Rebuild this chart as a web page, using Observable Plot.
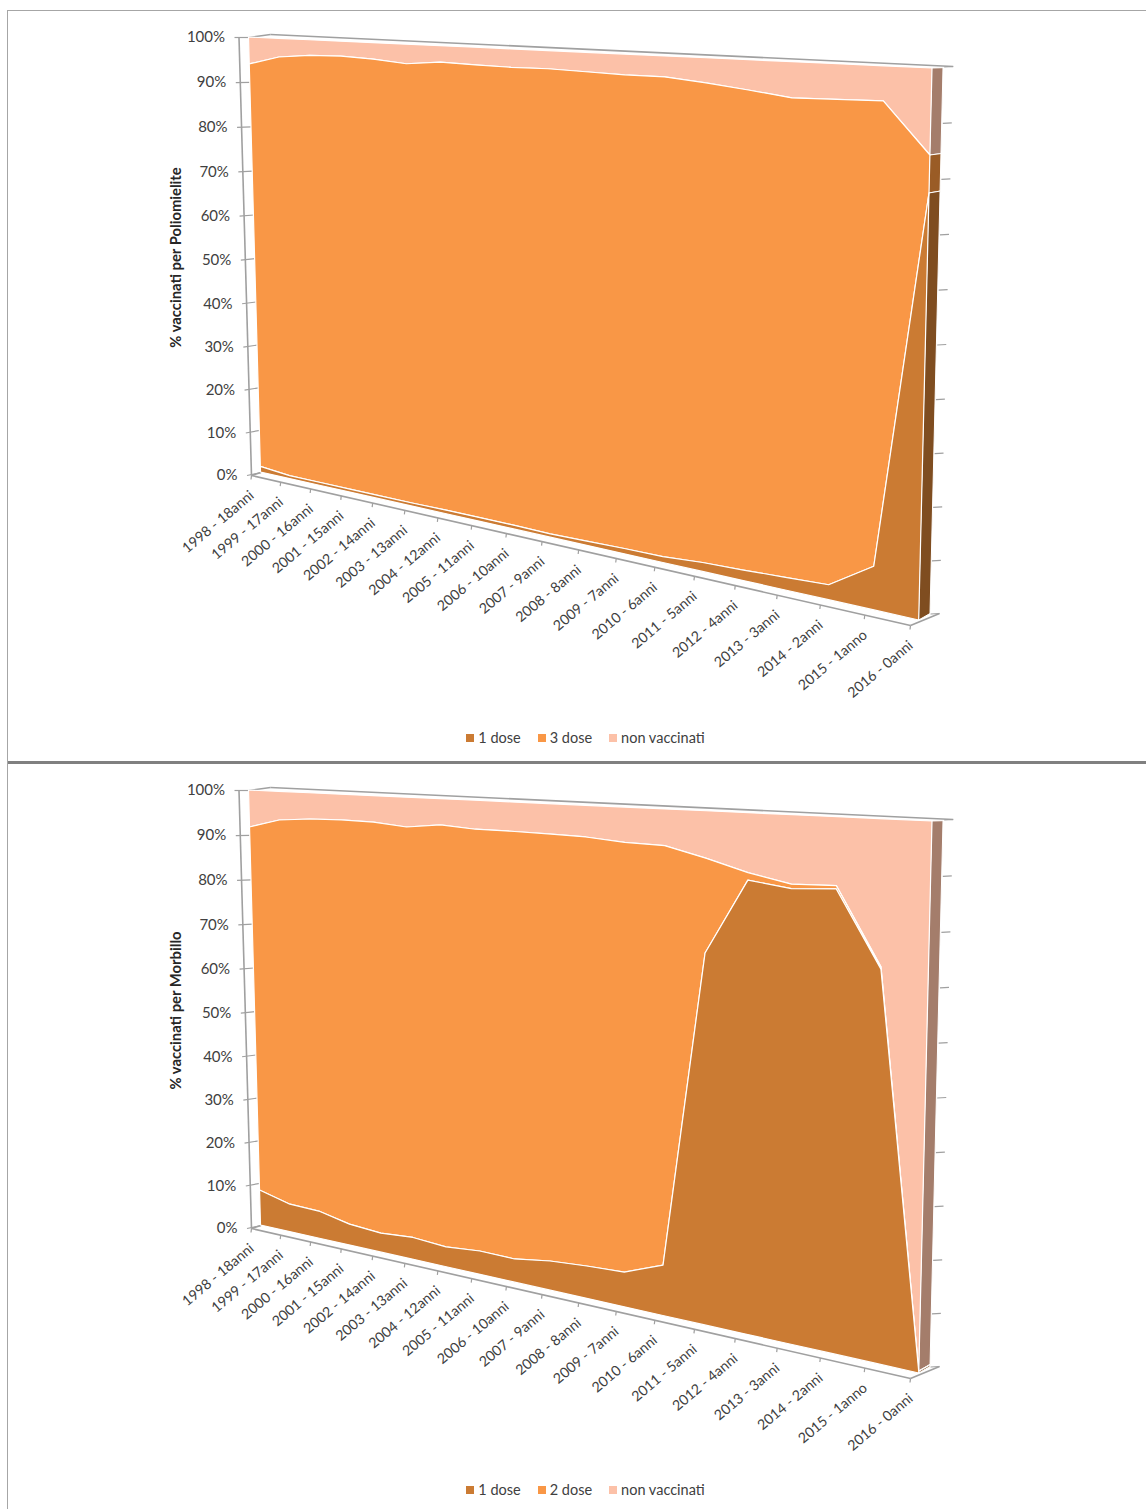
<!DOCTYPE html>
<html><head><meta charset="utf-8">
<script src="https://cdn.jsdelivr.net/npm/d3@7"></script>
<script src="https://cdn.jsdelivr.net/npm/@observablehq/plot@0.6"></script>
<style>
html,body{margin:0;padding:0;background:#fff;overflow:hidden}
body{position:relative;width:1146px;height:1509px;font-family:Lato,sans-serif}
svg{display:block}
.frame{position:absolute;background:#a6a6a6}
.block{position:relative;height:764px}
.legend{height:28px;line-height:28px;display:flex;justify-content:center;gap:17px;color:#404040;font-size:14.5px;padding-left:25px;box-sizing:border-box;width:1146px}
.legend span{display:flex;align-items:center;gap:4px}
.legend i{display:inline-block;width:8px;height:8px}
</style></head><body>
<div class="frame" style="left:8px;top:10px;width:1138px;height:1px"></div>
<div class="frame" style="left:7px;top:10px;width:1px;height:1499px"></div>
<div class="frame" style="left:8px;top:761px;width:1138px;height:3px;background:#808080"></div>
<div class="block" id="polio"></div>
<div class="block" id="morbillo" style="height:745px"></div>
<script>
const categories = ["1998 - 18anni","1999 - 17anni","2000 - 16anni","2001 - 15anni","2002 - 14anni","2003 - 13anni","2004 - 12anni","2005 - 11anni","2006 - 10anni","2007 - 9anni","2008 - 8anni","2009 - 7anni","2010 - 6anni","2011 - 5anni","2012 - 4anni","2013 - 3anni","2014 - 2anni","2015 - 1anno","2016 - 0anni"];
const percentTicks = [0,10,20,30,40,50,60,70,80,90,100];

const polioDose1 = [1.35,0.7,0.7,0.7,0.7,0.7,0.8,0.8,0.8,0.7,0.9,1.1,1.2,1.8,2.1,2.5,2.9,8.3,78.1];
const polioDose3 = [92.65,95.2,95.9,96.1,95.8,95.2,95.8,95.6,95.5,95.7,95.3,94.9,94.8,93.5,92.3,90.9,90.7,85.5,6.7];
const polioNone  = [6,4.1,3.4,3.2,3.5,4.1,3.4,3.6,3.7,3.6,3.8,4,4,4.7,5.6,6.6,6.4,6.2,15.2];

const morbilloDose1 = [8.3,6.5,6.3,4.8,4.3,4.9,4.4,5.1,5,6.2,6.8,7.2,10.3,73.1,87.5,86.5,87,73.2,0.3];
const morbilloDose2 = [83.45,87.2,88,89.7,90.1,88.85,90.2,89,89.1,87.8,87,86,82.7,18,1.4,0.8,0.6,0.4,0.1];
const morbilloNone  = [8.25,6.3,5.7,5.5,5.6,6.25,5.4,5.9,5.9,6,6.2,6.8,7,8.9,11.1,12.7,12.4,26.4,99.6];

const colors = {dose1:"#cb7b33", dose2:"#f99746", none:"#fcc1a8"};
const sideColors = {dose1:"#7f4d20", dose2:"#9a5c26", none:"#a47d6b"};

// perspective of a plane given by its corners: bottom-left, bottom-right, top-right, top-left
function perspective([p0,p1,p2,p3]) {
  const dx1=p1[0]-p2[0], dx2=p3[0]-p2[0], sx=p0[0]-p1[0]+p2[0]-p3[0];
  const dy1=p1[1]-p2[1], dy2=p3[1]-p2[1], sy=p0[1]-p1[1]+p2[1]-p3[1];
  const det=dx1*dy2-dx2*dy1;
  const g=(sx*dy2-dx2*sy)/det, h=(dx1*sy-sx*dy1)/det;
  const a=p1[0]-p0[0]+g*p1[0], b=p3[0]-p0[0]+h*p3[0], d=p1[1]-p0[1]+g*p1[1], e=p3[1]-p0[1]+h*p3[1];
  return (u,v)=>{const w=g*u+h*v+1; return [(a*u+b*v+p0[0])/w,(d*u+e*v+p0[1])/w];};
}
const planeArea = [[260.5,472],[918.7,620],[932,68],[248.5,37]];
const planeAxis = [[251,475],[910,625],[922,71],[238.5,37]];
const planeSide = [[271,470],[930,613.5],[943,67.7],[259.5,36]];
const planeWall = [[268,470],[939,613],[952.7,66],[261,34]];
const backCorner = [270,34];

function draw(id, top, height, dy, seriesList, yTitle, legendNames) {
  const shift = q => q.map(([x,y])=>[x,y+dy]);
  const area = perspective(shift(planeArea)), axis = perspective(shift(planeAxis)),
        side = perspective(shift(planeSide)), wall = perspective(shift(planeWall));
  const n = categories.length, U = i=>i/(n-1), pct = p=>p/100;
  const keys = ["dose1","dose2","none"];
  let base = categories.map(()=>0);
  const layers = keys.map((k,j)=>{
    const lower = base, upper = base.map((b,i)=>b+seriesList[j][i]);
    base = upper;
    const rows = upper.map((t,i)=>{
      const [x1,y1]=area(U(i),pct(lower[i])), [x2,y2]=area(U(i),pct(t));
      return {x1,y1,x2,y2};
    });
    const [fx1,fy1]=area(1,pct(lower[n-1])), [fx2,fy2]=area(1,pct(upper[n-1]));
    const [bx1,by1]=side(1,pct(lower[n-1])), [bx2,by2]=side(1,pct(upper[n-1]));
    const sideRows=[{x1:fx1,y1:fy1,x2:fx2,y2:fy2},{x1:bx1,y1:by1,x2:bx2,y2:by2}];
    return {k,rows,sideRows};
  });
  const link = (a,b)=>({x1:a[0],y1:a[1],x2:b[0],y2:b[1]});
  const grey = "#a0a0a0";
  const left = percentTicks.map(p=>{const a=axis(0,pct(p)), b=area(0,pct(p));return link([a[0]-4.5,a[1]],b);});
  const leftLabels = percentTicks.map(p=>{const a=axis(0,pct(p));return {x:a[0]-14,y:a[1],t:p+"%"};});
  const right = percentTicks.map(p=>{const b=wall(1,pct(p));return link([b[0]-9,b[1]+.5],b);});
  const bottom = categories.map((c,i)=>{const a=axis(U(i),0);return link(a,[a[0]-.5,a[1]+4]);});
  const labels = categories.map((c,i)=>{const a=axis(U(i),0);return {x:a[0]+0.5,y:a[1]+18,t:c};});
  const back = [backCorner[0],backCorner[1]+dy];
  const frame = [
    link(axis(0,0),axis(0,1)), link(axis(0,0),axis(1,0)),
    link(axis(0,0),area(0,0)), link(axis(1,0),wall(1,0)),
    link(area(0,1),back), link(back,wall(1,1))
  ];
  const plot = Plot.plot({
    width:1146, height, margin:0,
    x:{domain:[0,1146],range:[0,1146],axis:null},
    y:{domain:[top,top+height],range:[0,height],axis:null},
    marks:[
      Plot.link(frame,{x1:"x1",y1:"y1",x2:"x2",y2:"y2",stroke:grey,strokeWidth:1.6}),
      Plot.link(left,{x1:"x1",y1:"y1",x2:"x2",y2:"y2",stroke:grey,strokeWidth:1.2}),
      Plot.link(right,{x1:"x1",y1:"y1",x2:"x2",y2:"y2",stroke:grey,strokeWidth:1.2}),
      Plot.link(bottom,{x1:"x1",y1:"y1",x2:"x2",y2:"y2",stroke:grey,strokeWidth:1.2}),
      ...layers.slice().reverse().map(l=>
        Plot.area(l.sideRows,{x1:"x1",y1:"y1",x2:"x2",y2:"y2",fill:sideColors[l.k],stroke:"#fff",strokeWidth:1})),
      ...layers.slice().reverse().map(l=>
        Plot.area(l.rows,{x1:"x1",y1:"y1",x2:"x2",y2:"y2",fill:colors[l.k],stroke:"#fff",strokeWidth:1.2})),
      Plot.text(leftLabels,{x:"x",y:"y",text:"t",textAnchor:"end",fontSize:15,fill:"#404040",fontFamily:"Lato"}),
      Plot.text(labels,{x:"x",y:"y",text:"t",textAnchor:"end",rotate:-40,fontSize:14.2,fill:"#404040",fontFamily:"Lato"}),
      Plot.text([yTitle],{x:()=>176,y:()=>257+dy,text:d=>d,rotate:-90,fontSize:14.8,fontWeight:"bold",fill:"#262626",fontFamily:"Lato"})
    ]
  });
  const el = document.getElementById(id);
  el.appendChild(plot);
  const lg = document.createElement("div"); lg.className="legend";
  keys.forEach((k,j)=>{
    const s=document.createElement("span");
    s.innerHTML=`<i style="background:${colors[k]}"></i>${legendNames[j]}`;
    lg.appendChild(s);
  });
  el.appendChild(lg);
}
draw("polio",0,724,0,[polioDose1,polioDose3,polioNone],"% vaccinati per Poliomielite",["1 dose","3 dose","non vaccinati"]);
draw("morbillo",764,712,753,[morbilloDose1,morbilloDose2,morbilloNone],"% vaccinati per Morbillo",["1 dose","2 dose","non vaccinati"]);
</script>
</body></html>
